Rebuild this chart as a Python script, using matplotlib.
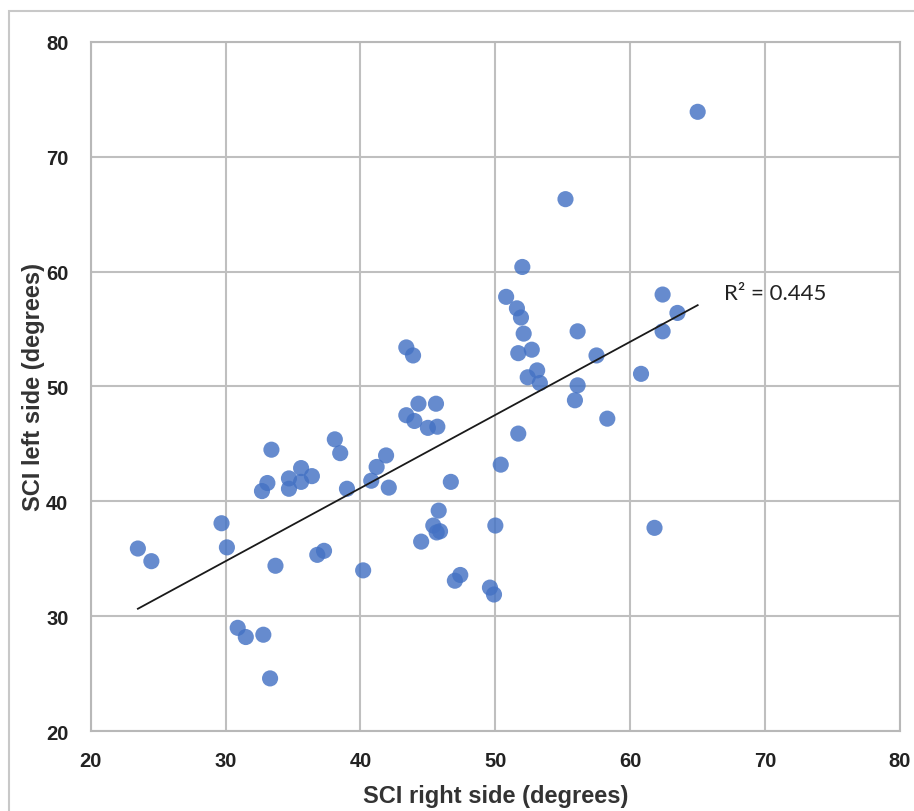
import matplotlib.pyplot as plt
import numpy as np
from matplotlib.patches import Rectangle

# SCI right side (x) vs SCI left side (y), degrees
sci_right = [65.0, 55.2, 52.0, 50.8, 51.6, 51.9, 52.1, 52.7, 51.7, 53.1,
             52.4, 53.3, 56.1, 57.5, 56.1, 62.4, 63.5, 62.4, 60.8, 55.9,
             58.3, 51.7, 50.4, 46.7, 50.0, 61.8, 47.4, 47.0, 49.6, 49.9,
             44.3, 45.6, 43.4, 44.0, 45.0, 45.7, 38.1, 38.5, 41.9, 33.4,
             41.2, 35.6, 36.4, 34.7, 35.6, 33.1, 34.7, 32.7, 40.8, 42.1,
             39.0, 45.8, 45.4, 45.9, 45.65, 44.5, 29.7, 30.1, 23.5, 24.5,
             33.7, 36.8, 37.3, 40.2, 30.9, 31.5, 32.8, 33.3, 43.4, 43.9]
sci_left = [73.9, 66.3, 60.4, 57.8, 56.8, 56.0, 54.6, 53.2, 52.9, 51.4,
            50.8, 50.3, 54.8, 52.7, 50.1, 58.0, 56.4, 54.8, 51.1, 48.8,
            47.2, 45.9, 43.2, 41.7, 37.9, 37.7, 33.6, 33.1, 32.5, 31.9,
            48.5, 48.5, 47.5, 47.0, 46.4, 46.5, 45.4, 44.2, 44.0, 44.5,
            43.0, 42.9, 42.2, 42.0, 41.7, 41.6, 41.1, 40.9, 41.8, 41.2,
            41.1, 39.2, 37.9, 37.4, 37.3, 36.5, 38.1, 36.0, 35.9, 34.8,
            34.4, 35.35, 35.7, 34.0, 29.0, 28.2, 28.4, 24.6, 53.4, 52.7]
r2_label = "R² = 0.445"
ticks = [20, 30, 40, 50, 60, 70, 80]

x = np.array(sci_right)
y = np.array(sci_left)

plt.rcParams['font.family'] = ['Liberation Sans', 'DejaVu Sans']

fig = plt.figure(figsize=(9.14, 8.12), dpi=100)
ax = fig.add_axes([0.0992, 0.0982, 0.8855, 0.8492])

# outer chart frame (only the left and top edges show in the crop)
fig.patches.append(Rectangle((9 / 914, -0.1), 1.2, 1 - 12 / 812 + 0.1,
                             transform=fig.transFigure, fill=False,
                             edgecolor='#c8c8c8', linewidth=1.5))

ax.scatter(x, y, s=135, color='#4472C4', alpha=0.82, edgecolors='none', zorder=3)

# linear trendline over data range
slope, intercept = np.polyfit(x, y, 1)
xs = np.array([x.min(), x.max()])
ax.plot(xs, slope * xs + intercept, color='#1a1a1a', linewidth=1.3, zorder=4)

ax.text(66.95, 58.1, r2_label, fontsize=16, va='center', ha='left',
        family=['Lato', 'DejaVu Sans'], color='#222222')

ax.set_xlim(20, 80)
ax.set_ylim(20, 80)
ax.set_xticks(ticks)
ax.set_yticks(ticks)
ax.grid(True, color='#bfbfbf', linewidth=1.5, zorder=0)
ax.set_axisbelow(True)
for sp in ax.spines.values():
    sp.set_color('#b8b8b8')
    sp.set_linewidth(1.5)
ax.tick_params(length=0, labelsize=14.5, colors='#222222')
ax.tick_params(axis='x', pad=14)
ax.tick_params(axis='y', pad=16)
for lab in ax.get_xticklabels() + ax.get_yticklabels():
    lab.set_fontweight('bold')

ax.set_xlabel("SCI right side (degrees)", fontsize=17, fontweight='bold',
              color='#333333')
ax.set_ylabel("SCI left side (degrees)", fontsize=17, fontweight='bold',
              color='#333333')
ax.xaxis.set_label_coords(0.5, -0.076)
ax.yaxis.set_label_coords(-0.057, 0.5)

fig.savefig("out.png", dpi=100)
